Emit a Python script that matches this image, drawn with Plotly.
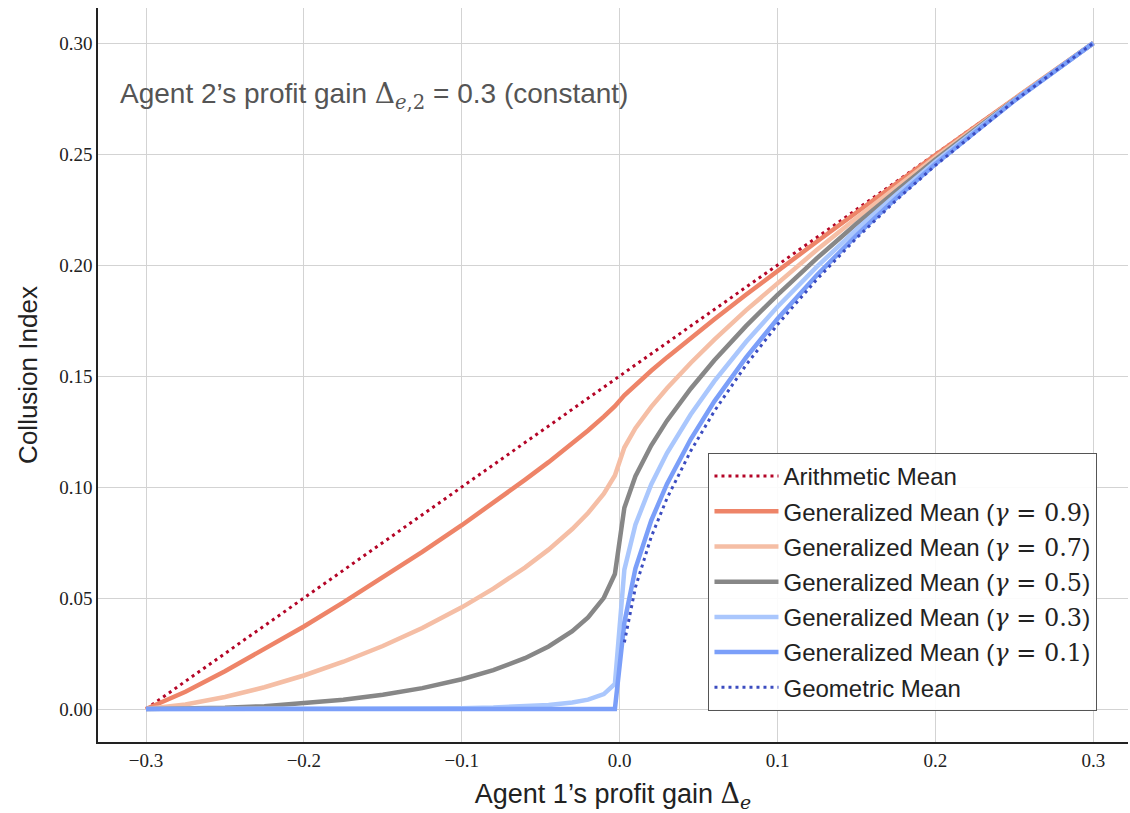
import plotly.graph_objects as go

# Agent 1's profit gain (x), negative and positive parts
x_neg = [-0.3, -0.275, -0.25, -0.225, -0.2, -0.175, -0.15, -0.125, -0.1, -0.08,
         -0.06, -0.045, -0.03, -0.02, -0.01, -0.003]
x_pos = [0.003, 0.01, 0.02, 0.03, 0.045, 0.06, 0.08, 0.1, 0.125, 0.15, 0.175,
         0.2, 0.25, 0.3]

arith_x = [-0.3, 0.0, 0.3]
arith_y = [0.0, 0.15, 0.3]

gm09 = [0, 0.0078, 0.0170, 0.0269, 0.0372, 0.0480, 0.0592, 0.0708, 0.0828, 0.0928,
        0.1032, 0.1112, 0.1196, 0.1255, 0.1317, 0.1364,
        0.1413, 0.1461, 0.1524, 0.1584, 0.1671, 0.1756, 0.1866, 0.1974, 0.2106,
        0.2237, 0.2367, 0.2495, 0.2749, 0.3]
gm07 = [0, 0.0020, 0.0054, 0.0098, 0.0151, 0.0213, 0.0284, 0.0365, 0.0458, 0.0542,
        0.0637, 0.0718, 0.0811, 0.0883, 0.0970, 0.1052,
        0.1178, 0.1265, 0.1361, 0.1445, 0.1559, 0.1664, 0.1796, 0.1920, 0.2069,
        0.2212, 0.2350, 0.2485, 0.2747, 0.3]
gm05 = [0, 0.0001, 0.0006, 0.0013, 0.0025, 0.0042, 0.0064, 0.0094, 0.0134, 0.0175,
        0.0229, 0.0282, 0.0351, 0.0413, 0.0501, 0.0608,
        0.0907, 0.1049, 0.1187, 0.1299, 0.1443, 0.1571, 0.1725, 0.1866, 0.2031,
        0.2186, 0.2333, 0.2475, 0.2744, 0.3]
gm03 = [0, 0, 0, 0, 0, 0.0001, 0.0001, 0.0002, 0.0004, 0.0007,
        0.0012, 0.0018, 0.0029, 0.0042, 0.0067, 0.0113,
        0.0628, 0.0830, 0.1012, 0.1153, 0.1327, 0.1477, 0.1653, 0.1812, 0.1993,
        0.2160, 0.2316, 0.2465, 0.2742, 0.3]
gm01 = [0, 0, 0, 0, 0, 0, 0, 0, 0, 0,
        0, 0, 0, 0, 0, 0,
        0.0390, 0.0633, 0.0849, 0.1014, 0.1215, 0.1386, 0.1583, 0.1758, 0.1955,
        0.2134, 0.2300, 0.2455, 0.2740, 0.3]
geo = [0.0300, 0.0548, 0.0775, 0.0949, 0.1162, 0.1342, 0.1549, 0.1732, 0.1936,
       0.2121, 0.2291, 0.2449, 0.2739, 0.3]

x_all = x_neg + x_pos

x_ticks = [-0.3, -0.2, -0.1, 0.0, 0.1, 0.2, 0.3]
y_ticks = [0.0, 0.05, 0.10, 0.15, 0.20, 0.25, 0.30]

MATH = "font-family:'DejaVu Serif', 'Liberation Serif', serif"

def gm_label(g):
    return f"Generalized Mean (<span style=\"{MATH}\"><i>γ</i> = {g}</span>)"

fig = go.Figure()

fig.add_trace(go.Scatter(x=arith_x, y=arith_y, mode="lines", name="Arithmetic Mean",
                         legendgroup="a",
                         line=dict(color="#b40426", width=3, dash="3px,4px")))
series = [
    (gm09, "0.9", "#ee8468"),
    (gm07, "0.7", "#f5bea5"),
    (gm05, "0.5", "#878787"),
    (gm03, "0.3", "#aac7fd"),
    (gm01, "0.1", "#7b9ff9"),
]
for ys, g, col in series:
    fig.add_trace(go.Scatter(x=x_all, y=ys, mode="lines", name=gm_label(g),
                             legendgroup=g,
                             line=dict(color=col, width=4.5)))
fig.add_trace(go.Scatter(x=x_pos, y=geo, mode="lines", name="Geometric Mean",
                         legendgroup="geo",
                         line=dict(color="#3b4cc0", width=3, dash="3px,4px")))

fig.add_annotation(
    x=-0.3177, y=0.2766, xref="x", yref="y", xanchor="left", yanchor="middle",
    text=f"Agent 2’s profit gain <span style=\"{MATH}\">Δ<sub><i>e</i>,2</sub></span> = 0.3 (constant)",
    showarrow=False, font=dict(size=28, color="#555555", family="Liberation Sans, Arial, sans-serif"))

fig.update_layout(
    width=1130, height=813,
    margin=dict(l=98, r=2, t=8, b=71),
    paper_bgcolor="white", plot_bgcolor="white",
    font=dict(family="Liberation Sans, Arial, sans-serif", color="#222222"),
    legend=dict(
        x=0.5925, y=0.394, xanchor="left", yanchor="top",
        bgcolor="rgba(255,255,255,0.9)", bordercolor="#555555", borderwidth=1.2,
        font=dict(size=24, color="#222222"), tracegroupgap=1, itemwidth=64,
    ),
    showlegend=True,
)

fig.update_xaxes(
    range=[-0.3304, 0.322], tickvals=x_ticks, tickformat=".1f",
    showgrid=True, gridcolor="#d3d3d3", gridwidth=1,
    showline=True, linecolor="#222222", linewidth=1.5, zeroline=False,
    ticks="", tickfont=dict(size=19, family="Liberation Serif, serif", color="#222222"),
    title=dict(text=f"Agent 1’s profit gain <span style=\"{MATH}\">Δ<sub><i>e</i></sub></span>",
               font=dict(size=27, color="#222222"), standoff=16),
)
fig.update_yaxes(
    range=[-0.01486, 0.3158], tickvals=y_ticks, tickformat=".2f",
    showgrid=True, gridcolor="#d3d3d3", gridwidth=1,
    showline=True, linecolor="#222222", linewidth=1.5, zeroline=False,
    ticks="", tickfont=dict(size=19, family="Liberation Serif, serif", color="#222222"),
    title=dict(text="Collusion Index", font=dict(size=26, color="#222222"), standoff=14),
)

fig.write_html("out.html")
